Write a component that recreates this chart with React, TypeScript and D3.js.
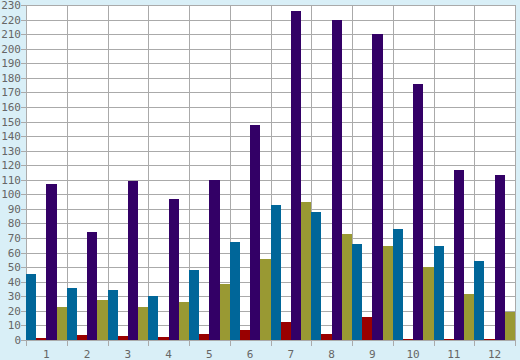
import React from "react";
import * as d3 from "d3";

const categories = ["1", "2", "3", "4", "5", "6", "7", "8", "9", "10", "11", "12"];
const seriesNames = ["blue", "red", "purple", "olive"];
const blueValues = [45, 35.5, 34.3, 30.2, 48, 67.3, 92.5, 88, 66, 76, 64.5, 54.2];
const redValues = [1.4, 3.4, 2.7, 2, 4, 6.9, 12.4, 4, 15.8, 0.8, 0.4, 0.8];
const purpleValues = [107, 74.2, 109.2, 96.8, 110, 147.7, 226, 219.8, 210, 175.8, 116.8, 113.3];
const oliveValues = [22.7, 27.5, 22.7, 26, 38.4, 55.6, 94.7, 72.8, 64.5, 50, 31.6, 19.2];
const yTicks = d3.range(0, 231, 10);

const colors: Record<string, string> = {
  blue: "#006699",
  red: "#990000",
  purple: "#330066",
  olive: "#999933",
};

const W = 520;
const H = 360;
const left = 26;
const right = 515;
const top = 5;
const bottom = 340;

export default function App() {
  const x = d3.scaleBand<string>().domain(categories).range([left, right]).paddingInner(0).paddingOuter(0);
  const xs = d3.scaleBand<string>().domain(seriesNames).range([0, x.bandwidth()]).padding(0);
  const y = d3.scaleLinear().domain([0, 230]).range([bottom, top]);
  const data: Record<string, number[]> = {
    blue: blueValues,
    red: redValues,
    purple: purpleValues,
    olive: oliveValues,
  };
  const grid = "#aaaaaa";
  const font = "'DejaVu Sans Mono', monospace";
  const bounds = categories.map((c) => x(c)!).concat([right]);
  return (
    <svg
      width={W}
      height={H}
      style={{ position: "absolute", left: 0, top: 0, display: "block" }}
    >
      <rect x={0} y={0} width={W} height={H} fill="#d9eff7" />
      <rect x={left} y={top} width={right - left} height={bottom - top} fill="#ffffff" />
      {yTicks.map((t) => (
        <g key={"y" + t}>
          <line x1={left - 5} x2={right} y1={Math.round(y(t)) + 0.5} y2={Math.round(y(t)) + 0.5} stroke={grid} strokeWidth={1} />
          <text x={left - 5} y={y(t) + 4} textAnchor="end" fontFamily={font} fontSize={11} fill="#666666">
            {t}
          </text>
        </g>
      ))}
      {bounds.map((b, i) => (
        <line key={"v" + i} x1={Math.round(b) + 0.5} x2={Math.round(b) + 0.5} y1={top} y2={bottom + 6} stroke={grid} strokeWidth={1} />
      ))}
      {categories.map((c, i) =>
        seriesNames.map((s) => {
          const v = data[s][i];
          return (
            <rect
              key={c + s}
              x={x(c)! + xs(s)!}
              y={y(v)}
              width={xs.bandwidth()}
              height={bottom - y(v)}
              fill={colors[s]}
              shapeRendering="crispEdges"
            />
          );
        })
      )}
      {categories.map((c) => (
        <text key={"xl" + c} x={x(c)! + x.bandwidth() / 2} y={358} textAnchor="middle" fontFamily={font} fontSize={11} fill="#666666">
          {c}
        </text>
      ))}
    </svg>
  );
}
